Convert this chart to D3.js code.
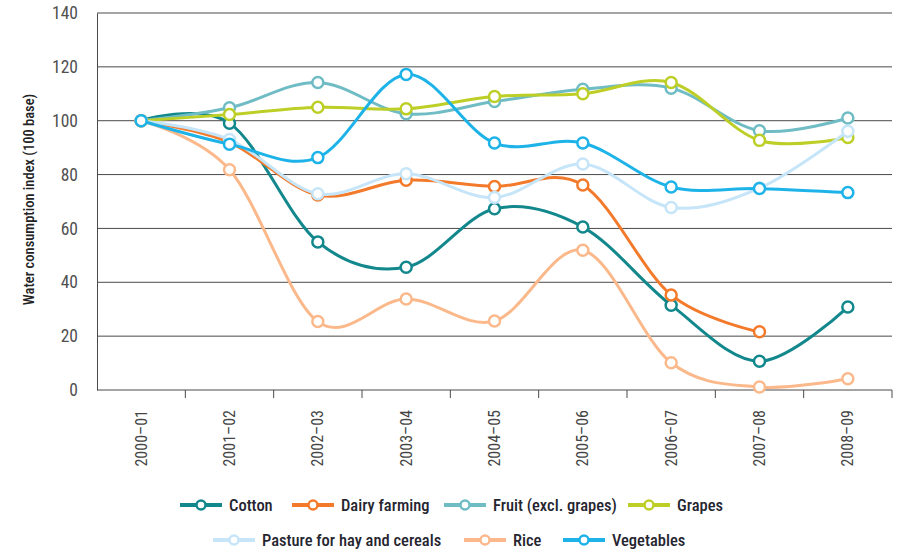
<!DOCTYPE html>
<html>
<head>
<meta charset="utf-8">
<script src="https://cdn.jsdelivr.net/npm/d3@7"></script>
<style>
  body { margin: 0; background: #fff; }
  svg text { font-family: "Liberation Sans Narrow", "Roboto Condensed", "Arial Narrow", "Liberation Sans", sans-serif; }
</style>
</head>
<body>
<div id="chart"></div>
<script>
// Chart data
const years = ["2000–01", "2001–02", "2002–03", "2003–04", "2004–05", "2005–06", "2006–07", "2007–08", "2008–09"];
const seriesNames = ["Cotton", "Dairy farming", "Fruit (excl. grapes)", "Grapes", "Pasture for hay and cereals", "Rice", "Vegetables"];
const seriesColors = ["#12888d", "#f37a2b", "#6fbcc4", "#bdcf27", "#c6e5f8", "#fbb98b", "#1db3e8"];
const cotton     = [100, 99.1, 55, 45.6, 67.3, 60.5, 31.5, 10.7, 30.8];
const dairy      = [100, 92, 72.4, 77.9, 75.6, 76.1, 35.3, 21.6, null];
const fruit      = [100, 104.8, 114.2, 102.6, 107.1, 111.7, 112.1, 96.3, 101];
const grapes     = [100, 102.3, 105, 104.4, 109, 110, 114.2, 92.7, 93.8];
const pasture    = [100, 93, 72.9, 80.3, 71.5, 83.9, 67.8, 75, 96.1];
const rice       = [100, 81.8, 25.4, 33.8, 25.6, 51.9, 10.1, 1.1, 4.2];
const vegetables = [100, 91.3, 86.3, 117.2, 91.7, 91.7, 75.4, 74.8, 73.3];
const yTicks = [0, 20, 40, 60, 80, 100, 120, 140];

const seriesValues = [cotton, dairy, fruit, grapes, pasture, rice, vegetables];

const width = 905, height = 552;
const margin = { left: 97, right: 13, top: 13, bottom: 162 };

const svg = d3.select("#chart").append("svg")
  .attr("width", width)
  .attr("height", height);

const x = d3.scaleBand()
  .domain(years)
  .range([margin.left, width - margin.right]);

const y = d3.scaleLinear()
  .domain([0, 140])
  .range([height - margin.bottom, margin.top]);

// horizontal gridlines
svg.append("g")
  .selectAll("line")
  .data(yTicks.filter(d => d > 0))
  .join("line")
  .attr("x1", margin.left)
  .attr("x2", width - margin.right)
  .attr("y1", d => y(d))
  .attr("y2", d => y(d))
  .attr("stroke", "#4a4a4a")
  .attr("stroke-width", 1);

// y axis
const yAxis = svg.append("g")
  .attr("transform", `translate(${margin.left},0)`)
  .call(d3.axisLeft(y).tickValues(yTicks).tickSize(0).tickPadding(19));
yAxis.select(".domain").attr("stroke", "#4a4a4a");
yAxis.selectAll("text")
  .attr("font-size", 17.5)
  .attr("fill", "#505050")
  .attr("font-family", null);

// x axis: ticks at band boundaries
const xAxisG = svg.append("g")
  .attr("transform", `translate(0,${y(0)})`);
xAxisG.append("line")
  .attr("x1", margin.left).attr("x2", width - margin.right)
  .attr("stroke", "#4a4a4a");
xAxisG.selectAll(".tk")
  .data(years)
  .join("line")
  .attr("class", "tk")
  .attr("x1", d => x(d) + x.bandwidth())
  .attr("x2", d => x(d) + x.bandwidth())
  .attr("y1", 0).attr("y2", 8)
  .attr("stroke", "#4a4a4a");
xAxisG.selectAll(".lbl")
  .data(years)
  .join("text")
  .attr("class", "lbl")
  .attr("transform", d => `translate(${x(d) + x.bandwidth() / 2 + 5.5},20) rotate(-90)`)
  .attr("text-anchor", "end")
  .attr("font-size", 16)
  .attr("fill", "#444")
  .text(d => d);

// y axis title
svg.append("text")
  .attr("transform", `translate(34,${y(70) - 2}) rotate(-90)`)
  .attr("text-anchor", "middle")
  .attr("font-size", 14.5)
  .attr("font-weight", 500)
  .attr("fill", "#222")
  .text("Water consumption index (100 base)");

// lines
const line = d3.line()
  .defined(d => d.v != null)
  .x(d => x(d.year) + x.bandwidth() / 2)
  .y(d => y(d.v))
  .curve(d3.curveCardinal.tension(0));

const series = seriesNames.map((name, i) => ({
  name,
  color: seriesColors[i],
  points: years.map((yr, j) => ({ year: yr, v: seriesValues[i][j] }))
}));

const gSeries = svg.append("g")
  .selectAll("g")
  .data(series)
  .join("g");

gSeries.append("path")
  .attr("d", d => line(d.points.filter(p => p.v != null)))
  .attr("fill", "none")
  .attr("stroke", d => d.color)
  .attr("stroke-width", 3);

gSeries.selectAll("circle")
  .data(d => d.points.filter(p => p.v != null).map(p => ({ ...p, color: d.color })))
  .join("circle")
  .attr("cx", d => x(d.year) + x.bandwidth() / 2)
  .attr("cy", d => y(d.v))
  .attr("r", 5.5)
  .attr("fill", "#fff")
  .attr("stroke", d => d.color)
  .attr("stroke-width", 2.5);

// legend
const legendPos = [
  [180, 505], [292, 505], [444, 505], [628, 505],
  [213, 540], [464, 540], [563, 540]
];
const legend = svg.append("g")
  .selectAll("g")
  .data(series)
  .join("g")
  .attr("transform", (d, i) => `translate(${legendPos[i][0]},${legendPos[i][1]})`);
legend.append("line")
  .attr("x1", 0).attr("x2", 42)
  .attr("stroke", d => d.color)
  .attr("stroke-width", 4);
legend.append("circle")
  .attr("cx", 21).attr("r", 4.5)
  .attr("fill", "#fff")
  .attr("stroke", d => d.color)
  .attr("stroke-width", 2.5);
legend.append("text")
  .attr("x", 49)
  .attr("dy", "0.35em")
  .attr("font-size", 16.5)
  .attr("font-weight", 500)
  .attr("fill", "#252530")
  .text(d => d.name);
</script>
</body>
</html>
